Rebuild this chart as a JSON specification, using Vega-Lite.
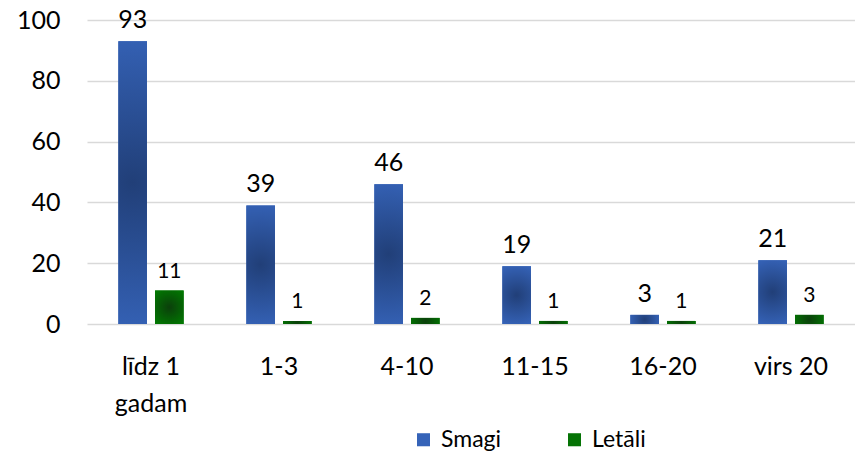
{
  "$schema": "https://vega.github.io/schema/vega-lite/v6.json",
  "width": 768,
  "height": 304,
  "autosize": "none",
  "padding": {"left": 87, "top": 20, "right": 0, "bottom": 130},
  "background": "white",
  "config": {"view": {"stroke": null}, "font": "Lato"},
  "data": {"values": [
    {"cat": "līdz 1 gadam", "series": "Smagi", "v": 93},
    {"cat": "līdz 1 gadam", "series": "Letāli", "v": 11},
    {"cat": "1-3", "series": "Smagi", "v": 39},
    {"cat": "1-3", "series": "Letāli", "v": 1},
    {"cat": "4-10", "series": "Smagi", "v": 46},
    {"cat": "4-10", "series": "Letāli", "v": 2},
    {"cat": "11-15", "series": "Smagi", "v": 19},
    {"cat": "11-15", "series": "Letāli", "v": 1},
    {"cat": "16-20", "series": "Smagi", "v": 3},
    {"cat": "16-20", "series": "Letāli", "v": 1},
    {"cat": "virs 20", "series": "Smagi", "v": 21},
    {"cat": "virs 20", "series": "Letāli", "v": 3}
  ]},
  "encoding": {
    "x": {
      "field": "cat", "type": "nominal",
      "sort": ["līdz 1 gadam", "1-3", "4-10", "11-15", "16-20", "virs 20"],
      "scale": {"paddingInner": 0.49, "paddingOuter": 0.245},
      "axis": {
        "title": null, "domain": false, "ticks": false, "grid": false,
        "labelAngle": 0, "labelFontSize": 25, "labelColor": "#000000",
        "labelPadding": 30, "labelLineHeight": 37,
        "labelExpr": "datum.value === 'līdz 1 gadam' ? ['līdz 1', 'gadam'] : datum.value"
      }
    },
    "xOffset": {
      "field": "series", "type": "nominal", "sort": ["Smagi", "Letāli"],
      "scale": {"paddingInner": 0.22, "paddingOuter": 0}
    },
    "y": {
      "field": "v", "type": "quantitative",
      "scale": {"domain": [0, 100], "nice": false},
      "axis": {
        "title": null, "domain": false, "ticks": false,
        "values": [0, 20, 40, 60, 80, 100],
        "grid": true, "gridColor": "#d9d9d9", "gridWidth": 1.5,
        "labelFontSize": 25, "labelColor": "#000000", "labelPadding": 27
      }
    }
  },
  "layer": [
    {
      "mark": {"type": "bar"},
      "encoding": {
        "color": {
          "field": "series", "type": "nominal",
          "scale": {"domain": ["Smagi", "Letāli"], "range": ["#3563b8", "#057305"]},
          "legend": {
            "orient": "none", "legendX": 325, "legendY": 408,
            "direction": "horizontal", "title": null,
            "symbolType": "square", "symbolSize": 170, "symbolStrokeWidth": 0,
            "labelFontSize": 23, "labelColor": "#000000", "labelOffset": 6,
            "columnPadding": 61
          }
        }
      }
    },
    {
      "mark": {"type": "bar"},
      "encoding": {
        "fill": {
          "condition": {
            "test": "datum.series === 'Smagi'",
            "value": {
              "gradient": "radial", "x1": 0.5, "y1": 0.5, "r1": 0, "x2": 0.5, "y2": 0.5, "r2": 0.7,
              "stops": [{"offset": 0, "color": "#213f78"}, {"offset": 1, "color": "#3b6dca"}]
            }
          },
          "value": {
            "gradient": "radial", "x1": 0.5, "y1": 0.5, "r1": 0, "x2": 0.5, "y2": 0.5, "r2": 0.7,
            "stops": [{"offset": 0, "color": "#0b3f0b"}, {"offset": 1, "color": "#008000"}]
          }
        }
      }
    },
    {
      "mark": {"type": "text", "dy": -13, "baseline": "alphabetic", "color": "#000000"},
      "encoding": {
        "text": {"field": "v", "type": "quantitative"},
        "size": {"condition": {"test": "datum.series === 'Smagi'", "value": 25}, "value": 21}
      }
    }
  ]
}
